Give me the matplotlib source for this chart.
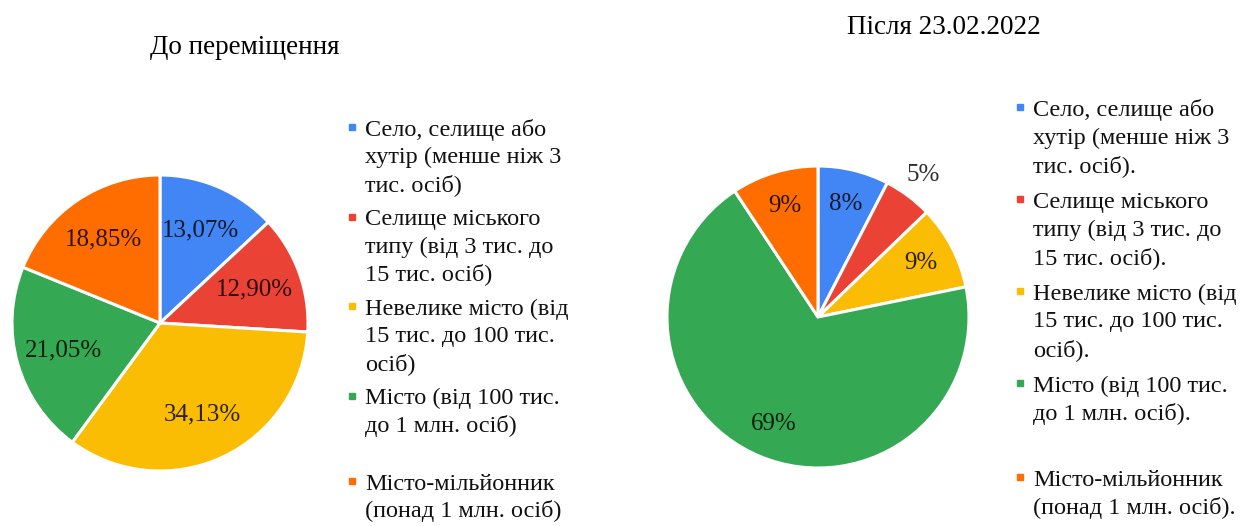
import numpy as np
import matplotlib
matplotlib.use("Agg")
import matplotlib.pyplot as plt
from matplotlib.lines import Line2D

plt.rcParams['font.family'] = ['Liberation Serif', 'DejaVu Serif']

# дані
colors = ['#4285F4', '#EA4335', '#FBBC04', '#34A853', '#FF6D01']
before_values = [13.07, 12.90, 34.13, 21.05, 18.85]
after_values = [7.6, 5.2, 9.0, 68.9, 9.3]
before_title = 'До переміщення'
after_title = 'Після 23.02.2022'
before_labels = [
    'Село, селище або\nхутір (менше ніж 3\nтис. осіб)',
    'Селище міського\nтипу (від 3 тис. до\n15 тис. осіб)',
    'Невелике місто (від\n15 тис. до 100 тис.\nосіб)',
    'Місто (від 100 тис.\nдо 1 млн. осіб)',
    'Місто-мільйонник\n(понад 1 млн. осіб)',
]
after_labels = [
    'Село, селище або\nхутір (менше ніж 3\nтис. осіб).',
    'Селище міського\nтипу (від 3 тис. до\n15 тис. осіб).',
    'Невелике місто (від\n15 тис. до 100 тис.\nосіб).',
    'Місто (від 100 тис.\nдо 1 млн. осіб).',
    'Місто-мільйонник\n(понад 1 млн. осіб).',
]

W, H = 1251, 526
fig = plt.figure(figsize=(W / 100, H / 100), dpi=100)


def pie_axes(cx, cy, r):
    # cx, cy, r у пікселях (y від верху)
    ax = fig.add_axes([(cx - r) / W, (H - cy - r) / H, 2 * r / W, 2 * r / H])
    ax.axis('off')
    return ax


def fix_limits(ax):
    ax.set_xlim(-1, 1)
    ax.set_ylim(-1, 1)
    ax.set_aspect('equal')


def draw_legend(x0, y0, labels, step, gap, last_gap):
    y = y0
    for i, (lab, col) in enumerate(zip(labels, colors)):
        if i == len(labels) - 1:
            y += last_gap - gap
        fig.add_artist(Line2D([(x0 - 13) / W], [1 - (y - 3) / H], marker='s', ms=4.5,
                              color=col, transform=fig.transFigure))
        for line in lab.split('\n'):
            fig.text(x0 / W, 1 - y / H, line, fontsize=17.5, va='center', ha='left',
                     color='#111111')
            y += step
        y += gap - step


# ліва діаграма
ax1 = pie_axes(160, 323, 148)
w1, t1, a1 = ax1.pie(before_values, colors=colors, startangle=90, counterclock=False,
                     radius=1, pctdistance=0.68,
                     autopct=lambda p: f'{p:.2f}%'.replace('.', ','),
                     wedgeprops=dict(edgecolor='white', linewidth=2.2),
                     textprops=dict(fontsize=18, color='black', alpha=0.82))
fix_limits(ax1)
fig.text(245 / W, 1 - 47 / H, before_title, fontsize=19.5, ha='center', va='center')
draw_legend(365, 130, before_labels, 27.5, 34.5, 58)

# права діаграма
ax2 = pie_axes(818, 317, 151)
w2, t2, a2 = ax2.pie(after_values, colors=colors, startangle=90, counterclock=False,
                     radius=1, pctdistance=0.77,
                     autopct=lambda p: f'{p:.0f}%',
                     wedgeprops=dict(edgecolor='white', linewidth=2.2),
                     textprops=dict(fontsize=18, color='black', alpha=0.82))
fix_limits(ax2)
# підпис маленького сектора винесено назовні
wd = w2[1]
mid = np.deg2rad((wd.theta1 + wd.theta2) / 2)
a2[1].set_position((1.17 * np.cos(mid), 1.17 * np.sin(mid)))
fig.text(944 / W, 1 - 27 / H, after_title, fontsize=19.5, ha='center', va='center')
draw_legend(1033, 110, after_labels, 28, 36, 66)

fig.savefig('out.png', dpi=100, facecolor='white')
